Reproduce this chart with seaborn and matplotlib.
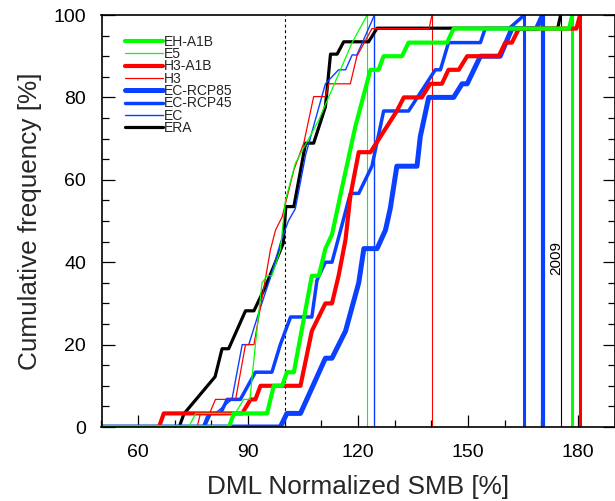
import matplotlib
matplotlib.use("Agg")
import matplotlib.pyplot as plt
from matplotlib.lines import Line2D
from matplotlib.ticker import MultipleLocator, FixedLocator
import pandas as pd
import seaborn as sns

sns.set_theme(style="white")
plt.rcParams["font.family"] = ["Liberation Sans", "DejaVu Sans"]

# Cumulative frequency curves (x: normalized SMB [%], y: cumulative frequency [%])
x_eh_a1b = [50, 84.8, 86.1, 95.2, 97.0, 99.3, 100.6, 102.5, 107.4, 109.3, 111.1, 112.9, 116.1,
            119.3, 123.4, 125.6, 127.0, 132.0, 133.8, 144.3, 146.1, 177.6, 178.5]
y_eh_a1b = [0, 0, 3.3, 3.3, 10, 10, 13.3, 13.3, 36.7, 36.7, 43.3, 46.7, 60,
            73, 86.7, 86.7, 90, 90, 93.3, 93.3, 96.7, 96.7, 100]

x_e5 = [50, 73.8, 75.7, 86.5, 88.8, 90.5, 92.0, 93.8, 95.2, 96.5, 98.8, 100.2, 102.9,
        109.3, 118.4, 122.5]
y_e5 = [0, 0, 3.3, 3.3, 6.7, 6.7, 20, 35, 36.7, 36.7, 43, 55, 64,
        74.5, 93.3, 100]

x_h3_a1b = [50, 65.7, 67.0, 88.4, 90.7, 92.0, 93.4, 104.3, 107.4, 111.1, 112.9, 114.7, 116.6,
            117.9, 120.2, 123.4, 130.6, 132.5, 137.4, 139.7, 142.9, 144.7, 147.5, 149.8,
            158.4, 160.2, 162.0, 163.9, 179.6, 180.6]
y_h3_a1b = [0, 0, 3.3, 3.3, 6.7, 6.7, 10, 10, 23.3, 30, 30, 36.7, 45.5,
            56, 66.7, 66.7, 76.7, 80, 80, 83.3, 83.3, 86.7, 86.7, 90,
            90, 93.3, 93.3, 96.7, 96.7, 100]

x_h3 = [50, 76.1, 77.0, 79.5, 81.1, 86.6, 89.3, 91.6, 96.1, 97.5, 99.3, 102.5, 105.2,
        107.9, 111.1, 112.0, 117.9, 119.7, 123.8, 139.4, 140.2]
y_h3 = [0, 0, 3.3, 3.3, 6.7, 6.7, 20, 20, 43, 47.8, 51, 62.4, 68.9,
        80.2, 80.2, 83.3, 83.3, 90, 96.7, 96.7, 100]

x_ec_rcp85 = [50, 98.8, 100.6, 104.3, 111.1, 112.9, 116.6, 120.2, 121.6, 125.2, 127.5, 128.8,
              130.6, 136.1, 137.0, 139.3, 146.1, 148.4, 149.8, 153.4, 158.8, 162.0, 168.7, 170.4]
y_ec_rcp85 = [0, 0, 3.3, 3.3, 16.7, 16.7, 23.3, 35, 43.3, 43.3, 47.8, 53,
              63.3, 63.3, 70.5, 80, 80, 83.3, 83.3, 90, 90, 96.7, 96.7, 100]

x_ec_rcp45 = [50, 78.0, 79.7, 82.5, 84.3, 87.9, 92.0, 96.5, 98.8, 101.6, 107.4, 108.8, 111.1,
              112.9, 115.2, 117.9, 120.2, 123.8, 127.0, 133.8, 141.1, 142.5, 144.7, 153.4,
              154.7, 161.2, 165.4]
y_ec_rcp45 = [0, 0, 3.3, 3.3, 6.7, 6.7, 13.3, 13.3, 20, 26.7, 26.7, 35.6, 40,
              40, 47.6, 56.7, 56.7, 63.3, 76.7, 76.7, 86.7, 86.7, 93.3, 93.3,
              96.7, 96.7, 100]

x_ec = [50, 77.5, 79.0, 81.0, 85.6, 88.4, 90.2, 93.0, 96.0, 98.8, 101.0, 102.9, 105.7,
        108.5, 111.1, 114.7, 116.6, 118.4, 119.7, 124.5]
y_ec = [0, 0, 3.3, 3.3, 6.7, 20, 20, 28, 36, 44.6, 50, 53, 66,
        75, 83.3, 86.7, 86.7, 90.3, 90.3, 100]

x_era = [50, 71.2, 72.5, 81.0, 82.9, 84.7, 89.3, 91.6, 94.7, 99.6, 100.3, 102.5, 105.7,
         107.9, 111.1, 112.5, 114.3, 116.1, 122.9, 125.2, 174.5, 175.3]
y_era = [0, 0, 3.2, 12.2, 19.0, 19.0, 28.2, 28.2, 34.0, 44.6, 53.5, 53.5, 68.9,
         68.9, 77.7, 90.5, 90.5, 93.5, 93.5, 96.8, 96.8, 100]

runs = ["EH-A1B", "E5", "H3-A1B", "H3", "EC-RCP85", "EC-RCP45", "EC", "ERA"]
curve_x = [x_eh_a1b, x_e5, x_h3_a1b, x_h3, x_ec_rcp85, x_ec_rcp45, x_ec, x_era]
curve_y = [y_eh_a1b, y_e5, y_h3_a1b, y_h3, y_ec_rcp85, y_ec_rcp45, y_ec, y_era]

colors = {"EH-A1B": "#00ff00", "E5": "#00ff00", "H3-A1B": "#ff0000", "H3": "#ff0000",
          "EC-RCP85": "#0a40ff", "EC-RCP45": "#0a40ff", "EC": "#0a40ff", "ERA": "#000000"}
widths = {"EH-A1B": 3.0, "E5": 0.9, "H3-A1B": 3.0, "H3": 0.9,
          "EC-RCP85": 3.6, "EC-RCP45": 2.5, "EC": 1.0, "ERA": 2.3}
max_line_widths = {"EH-A1B": 2.2, "E5": 0.8, "H3-A1B": 2.2, "H3": 0.8,
                   "EC-RCP85": 3.0, "EC-RCP45": 2.2, "EC": 1.0, "ERA": 0.8}

frames = []
for name, xs, ys in zip(runs, curve_x, curve_y):
    frames.append(pd.DataFrame({"smb": xs, "freq": ys, "run": name}))
df = pd.concat(frames, ignore_index=True)

fig = plt.figure(figsize=(6.15, 5.01), dpi=100)
ax = fig.add_axes([101.5 / 615, 74 / 501, 513 / 615, 412 / 501])

draw_order = runs[::-1]
sns.lineplot(data=df, x="smb", y="freq", hue="run", size="run",
             hue_order=draw_order, size_order=draw_order,
             palette=colors, sizes=widths, sort=False, estimator=None,
             legend=False, ax=ax)

# reference line at 100 % and the record-year value of each run
ax.axvline(100, color="black", lw=0.8, ls=(0, (2.5, 2.5)), zorder=1)
for name in draw_order:
    xs = curve_x[runs.index(name)]
    ax.axvline(xs[-1], color=colors[name], lw=max_line_widths[name], zorder=1.5)

era_max = x_era[-1]
ax.text(era_max - 1.2, 41, "2009", rotation=90, ha="center", va="center",
        fontsize=11, color="black")

ax.set_xlim(50, 190)
ax.set_ylim(0, 100)
ax.xaxis.set_major_locator(FixedLocator([60, 90, 120, 150, 180]))
ax.xaxis.set_minor_locator(MultipleLocator(10))
ax.yaxis.set_major_locator(MultipleLocator(20))
ax.yaxis.set_minor_locator(MultipleLocator(5))
ax.tick_params(axis="both", which="both", direction="in", top=False, right=True,
               bottom=True, left=True, colors="black", width=0.9)
ax.tick_params(axis="both", which="major", length=9)
ax.tick_params(axis="both", which="minor", length=5)
ax.tick_params(axis="x", which="major", labelsize=14, pad=12.5)
ax.tick_params(axis="y", which="major", labelsize=14, pad=11)

ax.set_xlabel("DML Normalized SMB [%]", fontsize=18.8, labelpad=10)
ax.set_ylabel("Cumulative frequency [%]", fontsize=18.8, labelpad=8)
for sp in ax.spines.values():
    sp.set_color("black")
    sp.set_linewidth(1.2)

handles = [Line2D([], [], color=colors[n], lw=widths[n]) for n in runs]
ax.legend(handles, runs, loc="upper left", bbox_to_anchor=(0.046, 0.952),
          frameon=False, fontsize=10, handlelength=2.7, handletextpad=0.1,
          labelspacing=-0.12, borderpad=0, borderaxespad=0)

fig.savefig("out.png", dpi=100)
